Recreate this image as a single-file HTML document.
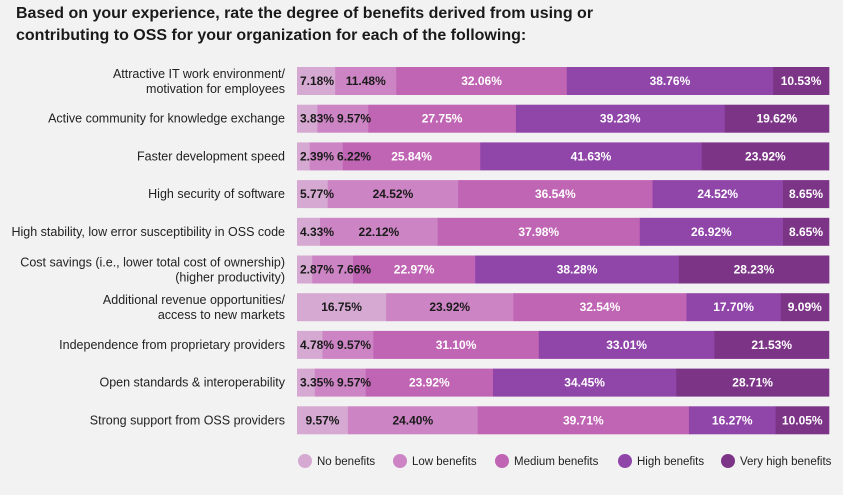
<!DOCTYPE html>
<html><head><meta charset="utf-8"><style>
body{margin:0;background:#f2f2f2;width:843px;height:495px;overflow:hidden;font-family:"Liberation Sans",sans-serif}
#title{position:absolute;left:16px;top:3px;font-size:16px;font-weight:bold;line-height:22px;color:#1a1a1a;margin:0}
svg{position:absolute;left:0;top:0}
</style></head><body>
<h1 id="title">Based on your experience, rate the degree of benefits derived from using or<br>contributing to OSS for your organization for each of the following:</h1>
<svg id="chart" width="843" height="495"></svg>
<script>
const categories=[["Attractive IT work environment/","motivation for employees"],["Active community for knowledge exchange"],["Faster development speed"],["High security of software"],["High stability, low error susceptibility in OSS code"],["Cost savings (i.e., lower total cost of ownership)","(higher productivity)"],["Additional revenue opportunities/","access to new markets"],["Independence from proprietary providers"],["Open standards & interoperability"],["Strong support from OSS providers"]];
const seriesNames=["No benefits","Low benefits","Medium benefits","High benefits","Very high benefits"];
const noBenefits=[7.18,3.83,2.39,5.77,4.33,2.87,16.75,4.78,3.35,9.57];
const lowBenefits=[11.48,9.57,6.22,24.52,22.12,7.66,23.92,9.57,9.57,24.40];
const mediumBenefits=[32.06,27.75,25.84,36.54,37.98,22.97,32.54,31.10,23.92,39.71];
const highBenefits=[38.76,39.23,41.63,24.52,26.92,38.28,17.70,33.01,34.45,16.27];
const veryHighBenefits=[10.53,19.62,23.92,8.65,8.65,28.23,9.09,21.53,28.71,10.05];
const colors=["#d6a9d2","#cc84c4","#c064b4","#9045a9","#7c3487"];
const textColors=["#1a1a1a","#1a1a1a","#fff","#fff","#fff"];
const svg=document.getElementById('chart');
const NS="http://www.w3.org/2000/svg";
const x0=297,x1=829,bh=28,y0=67,pitch=37.7;
const xs=v=>x0+v/100*(x1-x0);
const ctx=document.createElement('canvas').getContext('2d');
ctx.font="bold 12px 'Liberation Sans'";
function mk(t,a){const e=document.createElementNS(NS,t);for(const k in a)e.setAttribute(k,a[k]);svg.appendChild(e);return e;}
const labels=[];
categories.forEach((cat,i)=>{
  const yt=y0+i*pitch, yc=yt+bh/2;
  const lab=mk('text',{x:285,y:cat.length>1?yc-3:yc+4,'text-anchor':'end','font-size':'12.5',fill:'#222'});
  
  
  cat.forEach((ln,j)=>{const ts=document.createElementNS(NS,'tspan');ts.setAttribute('x',285);if(j)ts.setAttribute('dy','15');ts.textContent=ln;lab.appendChild(ts);});
  const vals=[noBenefits[i],lowBenefits[i],mediumBenefits[i],highBenefits[i],veryHighBenefits[i]];
  let acc=0,prevEnd=0;
  vals.forEach((v,s)=>{
    if(v<=0){return;}
    const a=xs(acc),b=xs(acc+v);acc+=v;
    const r=mk('rect',{x:a,y:yt,width:b-a+0.3,height:bh,fill:colors[s]});
    
    
    const txt=v.toFixed(2)+'%';const w=ctx.measureText(txt).width;
    let tx=Math.max((a+b)/2-w/2,a+3,prevEnd+3);
    prevEnd=tx+w;
    labels.push([tx,yc+4,s,txt]);
  });
});
labels.forEach(([tx,ty,s,txt])=>{
  const t=mk('text',{x:tx,y:ty,'font-size':'12','font-weight':'bold',fill:textColors[s]});
  
  
  t.textContent=txt;
});
const legX=[305,400,502,625,728];
seriesNames.forEach((n,s)=>{
  const c=mk('circle',{cx:legX[s],cy:461,r:7,fill:colors[s]});
  
  
  const t=mk('text',{x:legX[s]+12,y:465,'font-size':'11.5',fill:'#222'});
  
  
  t.textContent=n;
});
</script>
</body></html>
